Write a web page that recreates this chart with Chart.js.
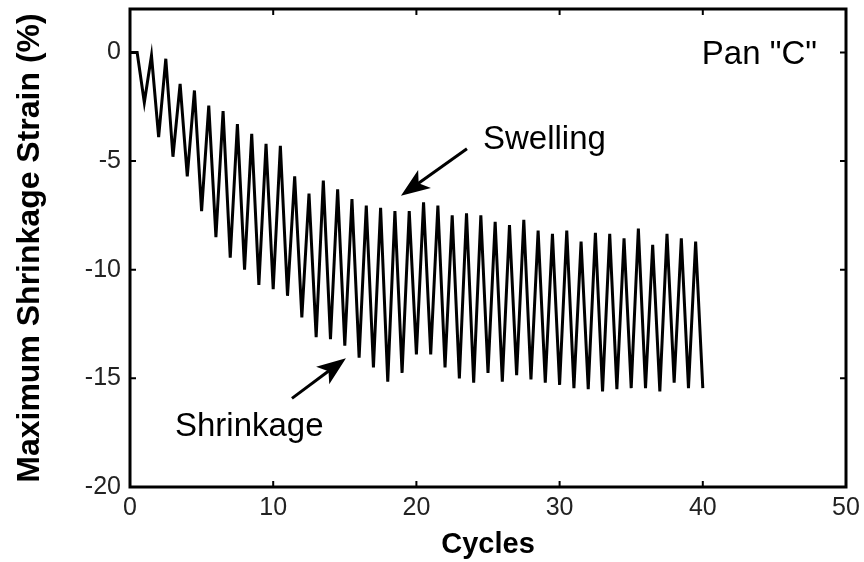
<!DOCTYPE html>
<html>
<head>
<meta charset="utf-8">
<script src="https://cdn.jsdelivr.net/npm/chart.js@4.4.1/dist/chart.umd.min.js"></script>
<style>
  body { margin: 0; background: #fff; }
</style>
</head>
<body>
<canvas id="strainChart" width="864" height="562"></canvas>
<script>
// cycle number (shrinkage at whole cycles, swelling half way between)
const cycles = [
  0, 0.5, 1, 1.5, 2, 2.5, 3, 3.5, 4, 4.5, 5, 5.5, 6, 6.5, 7, 7.5, 8, 8.5, 9, 9.5,
  10, 10.5, 11, 11.5, 12, 12.5, 13, 13.5, 14, 14.5, 15, 15.5, 16, 16.5, 17, 17.5, 18, 18.5, 19, 19.5,
  20, 20.5, 21, 21.5, 22, 22.5, 23, 23.5, 24, 24.5, 25, 25.5, 26, 26.5, 27, 27.5, 28, 28.5, 29, 29.5,
  30, 30.5, 31, 31.5, 32, 32.5, 33, 33.5, 34, 34.5, 35, 35.5, 36, 36.5, 37, 37.5, 38, 38.5, 39, 39.5,
  40
];

const strain = [
  0, 0, -2.3, -0.14, -3.9, -0.29, -4.8, -1.45, -5.7, -1.75, -7.3, -2.45, -8.5, -2.7, -9.45, -3.3, -10.0, -3.75, -10.7, -4.2,
  -10.9, -4.3, -11.2, -5.7, -12.2, -6.5, -13.1, -5.9, -13.2, -6.3, -13.5, -6.75, -14.05, -7.05, -14.5, -7.15, -15.15, -7.3, -14.75, -7.3,
  -13.9, -6.9, -13.9, -7.05, -14.5, -7.5, -15.0, -7.4, -15.2, -7.5, -14.75, -7.8, -15.15, -7.95, -14.85, -7.7, -15.05, -8.2, -15.2, -8.35,
  -15.3, -8.2, -15.45, -8.7, -15.5, -8.3, -15.6, -8.35, -15.5, -8.55, -15.45, -8.1, -15.45, -8.85, -15.6, -8.35, -15.2, -8.55, -15.45, -8.7,
  -15.45
];

const xTicks = [0, 10, 20, 30, 40, 50];
const yTicks = [-20, -15, -10, -5, 0];

// text + arrows, placed in data units
const labels = [
  { text: 'Pan "C"', x: 47.97, y: -0.51, align: 'right' },
  { text: 'Swelling', x: 24.65, y: -4.45, align: 'left' },
  { text: 'Shrinkage', x: 3.14, y: -17.65, align: 'left' }
];
const arrows = [
  { from: [23.53, -4.43], to: [18.92, -6.6] },
  { from: [11.31, -15.92], to: [15.08, -14.07] }
];

const points = cycles.map((c, i) => ({ x: c, y: strain[i] }));

const framePlugin = {
  id: 'frame',
  afterDraw(chart) {
    const ctx = chart.ctx;
    const area = chart.chartArea;
    const xs = chart.scales.x;
    const ys = chart.scales.y;
    ctx.save();
    ctx.strokeStyle = '#000';
    ctx.lineWidth = 3;
    ctx.strokeRect(area.left, area.top, area.right - area.left, area.bottom - area.top);

    // inward ticks on all four sides
    ctx.lineWidth = 2;
    ctx.beginPath();
    xTicks.forEach(v => {
      const px = xs.getPixelForValue(v);
      ctx.moveTo(px, area.bottom); ctx.lineTo(px, area.bottom - 6);
      ctx.moveTo(px, area.top); ctx.lineTo(px, area.top + 6);
    });
    yTicks.forEach(v => {
      const py = ys.getPixelForValue(v);
      ctx.moveTo(area.left, py); ctx.lineTo(area.left + 6, py);
      ctx.moveTo(area.right, py); ctx.lineTo(area.right - 6, py);
    });
    ctx.stroke();

    ctx.fillStyle = '#000';
    ctx.font = '33px "Liberation Sans", Arial, sans-serif';
    ctx.textBaseline = 'alphabetic';
    labels.forEach(l => {
      ctx.textAlign = l.align;
      ctx.fillText(l.text, xs.getPixelForValue(l.x), ys.getPixelForValue(l.y));
    });

    arrows.forEach(a => {
      const x1 = xs.getPixelForValue(a.from[0]), y1 = ys.getPixelForValue(a.from[1]);
      const x2 = xs.getPixelForValue(a.to[0]), y2 = ys.getPixelForValue(a.to[1]);
      const ang = Math.atan2(y2 - y1, x2 - x1);
      const headLen = 29, headW = 11;
      const bx = x2 - headLen * Math.cos(ang), by = y2 - headLen * Math.sin(ang);
      ctx.lineWidth = 3;
      ctx.beginPath();
      ctx.moveTo(x1, y1);
      ctx.lineTo(x2 - 0.7 * headLen * Math.cos(ang), y2 - 0.7 * headLen * Math.sin(ang));
      ctx.stroke();
      ctx.beginPath();
      ctx.moveTo(x2, y2);
      ctx.lineTo(bx + headW * Math.sin(ang), by - headW * Math.cos(ang));
      ctx.lineTo(x2 - 0.75 * headLen * Math.cos(ang), y2 - 0.75 * headLen * Math.sin(ang));
      ctx.lineTo(bx - headW * Math.sin(ang), by + headW * Math.cos(ang));
      ctx.closePath();
      ctx.fill();
    });
    ctx.restore();
  }
};

const tickFont = { family: '"Liberation Sans", Arial, sans-serif', size: 25 };

new Chart(document.getElementById('strainChart'), {
  type: 'line',
  data: {
    datasets: [{
      data: points,
      borderColor: '#000',
      borderWidth: 3,
      pointRadius: 0,
      fill: false,
      tension: 0
    }]
  },
  options: {
    responsive: false,
    animation: false,
    layout: { padding: { top: 9, right: 18, left: 0, bottom: 0 } },
    plugins: { legend: { display: false }, tooltip: { enabled: false } },
    scales: {
      x: {
        type: 'linear',
        min: 0,
        max: 50,
        afterBuildTicks: (scale) => { scale.ticks = xTicks.map(v => ({ value: v })); },
        afterFit: (scale) => { scale.height = 75; scale.paddingLeft = 0; scale.paddingRight = 0; },
        grid: { display: false, drawTicks: false },
        border: { display: false },
        ticks: { color: '#222', font: tickFont, padding: 6, maxRotation: 0 },
        title: {
          display: true, text: 'Cycles', color: '#000',
          font: { family: '"Liberation Sans", Arial, sans-serif', size: 29, weight: 'bold' },
          padding: { top: 0, bottom: 0 }
        }
      },
      y: {
        type: 'linear',
        min: -20,
        max: 2,
        afterBuildTicks: (scale) => { scale.ticks = yTicks.map(v => ({ value: v })); },
        afterFit: (scale) => { scale.width = 130; scale.paddingTop = 0; scale.paddingBottom = 0; },
        grid: { display: false, drawTicks: false },
        border: { display: false },
        ticks: { color: '#222', font: tickFont, padding: 9 },
        title: {
          display: true, text: 'Maximum Shrinkage Strain (%)', color: '#000',
          font: { family: '"Liberation Sans", Arial, sans-serif', size: 32, weight: 'bold' },
          padding: { top: 11, bottom: 0 }
        }
      }
    }
  },
  plugins: [framePlugin]
});
</script>
</body>
</html>
